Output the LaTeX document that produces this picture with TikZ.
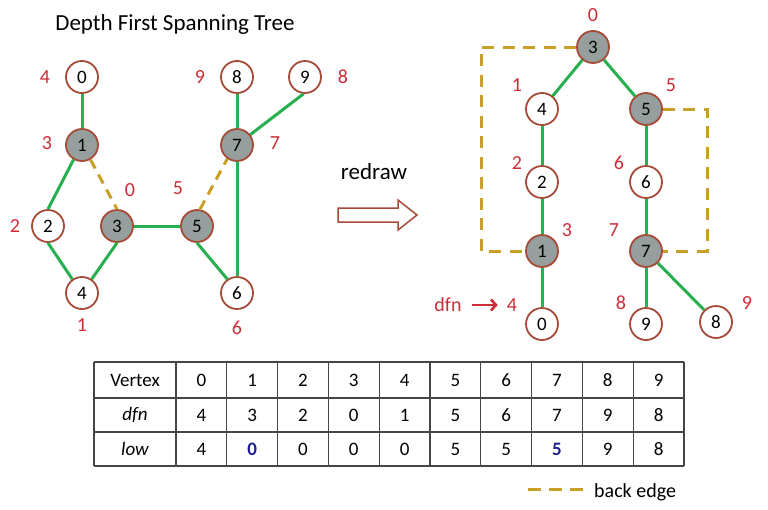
\documentclass[tikz,border=0pt]{standalone}
\usepackage{fontspec}
\setmainfont{Carlito}
\usetikzlibrary{arrows.meta}
\definecolor{nodebrown}{RGB}{165,75,55}
\definecolor{nodegray}{RGB}{150,158,158}
\definecolor{treegreen}{RGB}{40,175,80}
\definecolor{backgold}{RGB}{200,160,40}
\definecolor{labred}{RGB}{205,45,55}
\definecolor{lowblue}{RGB}{30,30,150}
\definecolor{gridgray}{RGB}{70,70,70}
\begin{document}
\begin{tikzpicture}[x=1pt,y=-1pt,
  vert/.style={circle,draw=nodebrown,line width=1.8pt,fill=white,minimum size=32pt,inner sep=0pt,font=\fontsize{19}{19}\selectfont},
  hot/.style={vert,fill=nodegray},
  lab/.style={text=labred,font=\fontsize{20}{20}\selectfont,inner sep=0pt},
  tree/.style={draw=treegreen,line width=3pt},
  back/.style={draw=backgold,line width=3pt,dash pattern=on 12pt off 8.5pt},
  cell/.style={font=\fontsize{19}{19}\selectfont,inner sep=0pt},
  grid/.style={draw=gridgray,line width=1.1pt}]
\useasboundingbox (0,0) rectangle (768,509);
\fill[white] (0,0) rectangle (768,509);

% title
\node[font=\fontsize{23}{23}\selectfont,inner sep=0pt] (title) at (175,24) {Depth First Spanning Tree};

% left graph
\node[vert] (a0) at (82,77) {0};
\node[hot]  (a1) at (82,145) {1};
\node[vert] (a2) at (48,226) {2};
\node[hot]  (a3) at (117,226) {3};
\node[vert] (a4) at (82,293) {4};
\node[hot]  (a5) at (197,226) {5};
\node[vert] (a6) at (237,293) {6};
\node[hot]  (a7) at (237,145) {7};
\node[vert] (a8) at (237,77) {8};
\node[vert] (a9) at (305,77) {9};

\draw[tree] (a0) -- (a1);
\draw[tree] (a1.240) -- (a2.north);
\draw[tree] (a2.south) -- (a4.125);
\draw[tree] (a3.south) -- (a4.55);
\draw[tree] (a3) -- (a5);
\draw[tree] (a5.south) -- (a6.125);
\draw[tree] (a7) -- (a6);
\draw[tree] (a7) -- (a8);
\draw[tree] (a7.38) -- (a9.265);
\draw[back,dash pattern=on 10pt off 7pt] (a1.-60) -- (a3.north);
\draw[back,dash pattern=on 10pt off 7pt] (a5.80) -- (a7.235);

\node[lab] (la0) at (45,77) {4};
\node[lab] (la8) at (200,77) {9};
\node[lab] (la9) at (343,77) {8};
\node[lab] (la1) at (47,143) {3};
\node[lab] (la7) at (275,143) {7};
\node[lab] (la3) at (130,190) {0};
\node[lab] (la5) at (178,188) {5};
\node[lab] (la2) at (15,226) {2};
\node[lab] (la4) at (82,325) {1};
\node[lab] (la6) at (237,328) {6};

% redraw arrow
\node[font=\fontsize{23}{23}\selectfont,inner sep=0pt] (redraw) at (374,172) {redraw};
\draw[nodebrown,line width=1.5pt,fill=white,line join=miter]
  (338,208) -- (398,208) -- (398,200) -- (417,215) -- (398,230) -- (398,222) -- (338,222) -- cycle;

% right tree
\node[hot]  (r3) at (593,47) {3};
\node[vert] (r4) at (542,109) {4};
\node[hot]  (r5) at (646,109) {5};
\node[vert] (r2) at (542,182) {2};
\node[vert] (r6) at (646,182) {6};
\node[hot]  (r1) at (542,251) {1};
\node[hot]  (r7) at (646,251) {7};
\node[vert] (r0) at (542,324) {0};
\node[vert] (r9) at (646,324) {9};
\node[vert] (r8) at (716,322) {8};

\draw[tree] (r3) -- (r4);
\draw[tree] (r3) -- (r5);
\draw[tree] (r4) -- (r2);
\draw[tree] (r2) -- (r1);
\draw[tree] (r1) -- (r0);
\draw[tree] (r5) -- (r6);
\draw[tree] (r6) -- (r7);
\draw[tree] (r7) -- (r9);
\draw[tree] (r7) -- (r8);

\coordinate (bl1) at (481,47);
\coordinate (bl2) at (481,251);
\coordinate (br1) at (707,109);
\coordinate (br2) at (707,251);
\draw[back] (r3.west) -- (bl1) -- (bl2) -- (r1.west);
\draw[back] (r5.east) -- (br1) -- (br2) -- (r7.east);

\node[lab] (lr3) at (593,15) {0};
\node[lab] (lr4) at (517,85) {1};
\node[lab] (lr5) at (671,85) {5};
\node[lab] (lr2) at (517,163) {2};
\node[lab] (lr6) at (619,163) {6};
\node[lab] (lr1) at (567,230) {3};
\node[lab] (lr7) at (614,230) {7};
\node[lab] (lr0) at (512,305) {4};
\node[lab] (lr9) at (621,303) {8};
\node[lab] (lr8) at (747,303) {9};
\node[lab] (dfn) at (448,305) {dfn};
\draw[labred,line width=2.6pt,-{Straight Barb[length=5pt,width=11pt]}] ([xshift=10pt]dfn.east) -- ([xshift=-9pt]lr0.west);

% table
\foreach \x in {94,176,226.8,277.6,328.4,379.2,430,480.8,531.6,582.4,633.2,684}
  \draw[grid] (\x,362) -- (\x,466);
\foreach \y in {362,398,432,466}
  \draw[grid] (94,\y) -- (684,\y);
\node[cell] (hV) at (135,380) {Vertex};
\node[cell] (hD) at (135,415) {\itshape dfn};
\node[cell] (hL) at (135,449) {\itshape low};
\foreach \v/\d/\l [count=\i from 0] in {0/4/4,1/3/{\textcolor{lowblue}{\bfseries 0}},2/2/0,3/0/0,4/1/0,5/5/5,6/6/5,7/7/{\textcolor{lowblue}{\bfseries 5}},8/9/9,9/8/8}{
  \node[cell] (v\i) at (201.4+50.8*\i,380) {\v};
  \node[cell] (d\i) at (201.4+50.8*\i,415) {\d};
  \node[cell] (l\i) at (201.4+50.8*\i,449) {\l};
}

% legend
\coordinate (lg1) at (528,489);
\coordinate (lg2) at (583,489);
\draw[back,dash pattern=on 13pt off 8pt] (lg1) -- (lg2);
\node[anchor=base west,font=\fontsize{20}{20}\selectfont,inner sep=0pt] (lgt) at (594,497) {back edge};
\end{tikzpicture}
\end{document}
